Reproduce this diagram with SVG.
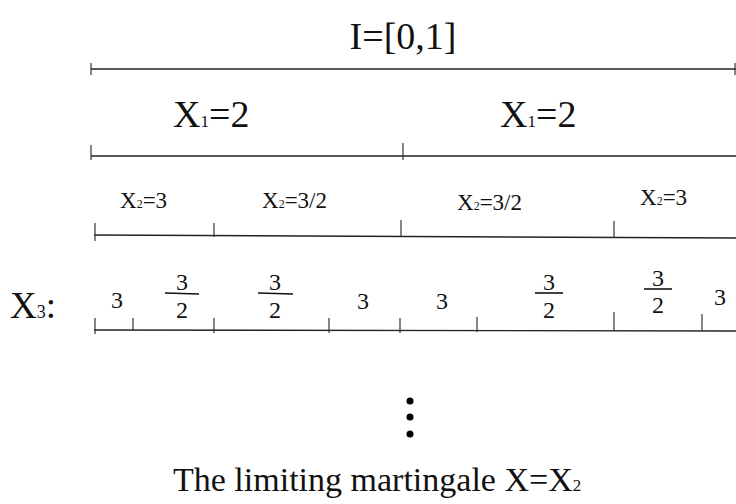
<svg xmlns="http://www.w3.org/2000/svg" width="736" height="504" viewBox="0 0 736 504">
<style>
.t{font-family:"Liberation Serif","Times New Roman",serif;fill:#111}
.ln{stroke:#222;stroke-width:1.4;fill:none}
.tk{stroke:#333;stroke-width:1.2;fill:none}
.bar{stroke:#111;stroke-width:1.6}
</style>
<rect width="736" height="504" fill="#fff"/>
<g id="row0">
<text class="t" x="403" y="49" font-size="38" text-anchor="middle">I=[0,1]</text>
<line class="ln" x1="91" y1="69" x2="736" y2="69"/>
<line class="tk" x1="91" y1="63" x2="91" y2="75"/>
<line class="tk" x1="735" y1="63" x2="735" y2="75"/>
</g>
<g id="row1">
<text class="t" x="173" y="127" font-size="38">X<tspan font-size="17">1</tspan>=2</text>
<text class="t" x="500" y="127" font-size="38">X<tspan font-size="17">1</tspan>=2</text>
<line class="ln" x1="91" y1="156" x2="736" y2="156"/>
<line class="tk" x1="91" y1="145" x2="91" y2="160"/>
<line class="tk" x1="403" y1="143" x2="403" y2="160"/>
</g>
<g id="row2">
<text class="t" x="120" y="208" font-size="23">X<tspan font-size="12">2</tspan>=3</text>
<text class="t" x="262" y="208" font-size="23">X<tspan font-size="12">2</tspan>=3/2</text>
<text class="t" x="457" y="210" font-size="23">X<tspan font-size="12">2</tspan>=3/2</text>
<text class="t" x="640" y="205" font-size="23">X<tspan font-size="12">2</tspan>=3</text>
<line class="ln" x1="94" y1="235" x2="736" y2="238"/>
<line class="tk" x1="95" y1="223" x2="95" y2="241"/>
<line class="tk" x1="214" y1="223" x2="214" y2="237"/>
<line class="tk" x1="401" y1="220" x2="401" y2="236"/>
<line class="tk" x1="614" y1="221" x2="614" y2="237"/>
</g>
<g id="row3">
<text class="t" x="10" y="318" font-size="37">X<tspan font-size="18">3</tspan>:</text>
<g class="t" font-size="24" text-anchor="middle">
<text x="117" y="308">3</text>
<text x="182" y="290">3</text><text x="182" y="318">2</text>
<text x="275" y="290">3</text><text x="275" y="318">2</text>
<text x="363" y="309">3</text>
<text x="442" y="309">3</text>
<text x="549" y="290">3</text><text x="549" y="318">2</text>
<text x="658" y="286">3</text><text x="658" y="313">2</text>
<text x="720" y="305">3</text>
</g>
<line class="bar" x1="165" y1="293" x2="199" y2="294"/>
<line class="bar" x1="258" y1="293" x2="293" y2="294"/>
<line class="bar" x1="535" y1="293" x2="563" y2="293"/>
<line class="bar" x1="644" y1="289" x2="672" y2="289"/>
<line class="ln" x1="94" y1="330" x2="736" y2="331"/>
<line class="tk" x1="95" y1="318" x2="95" y2="334"/>
<line class="tk" x1="133" y1="318" x2="133" y2="331"/>
<line class="tk" x1="214" y1="318" x2="214" y2="333"/>
<line class="tk" x1="329" y1="318" x2="329" y2="333"/>
<line class="tk" x1="400" y1="318" x2="400" y2="333"/>
<line class="tk" x1="477" y1="317" x2="477" y2="332"/>
<line class="tk" x1="614" y1="312" x2="614" y2="330"/>
<line class="tk" x1="702" y1="314" x2="702" y2="331"/>
</g>
<g id="dots" fill="#000">
<circle cx="410" cy="401" r="3.5"/>
<circle cx="410" cy="417" r="3.5"/>
<circle cx="410" cy="434" r="3.5"/>
</g>
<g id="caption">
<text class="t" x="173" y="491" font-size="34">The limiting martingale X=X<tspan font-size="17">2</tspan></text>
</g>
</svg>
